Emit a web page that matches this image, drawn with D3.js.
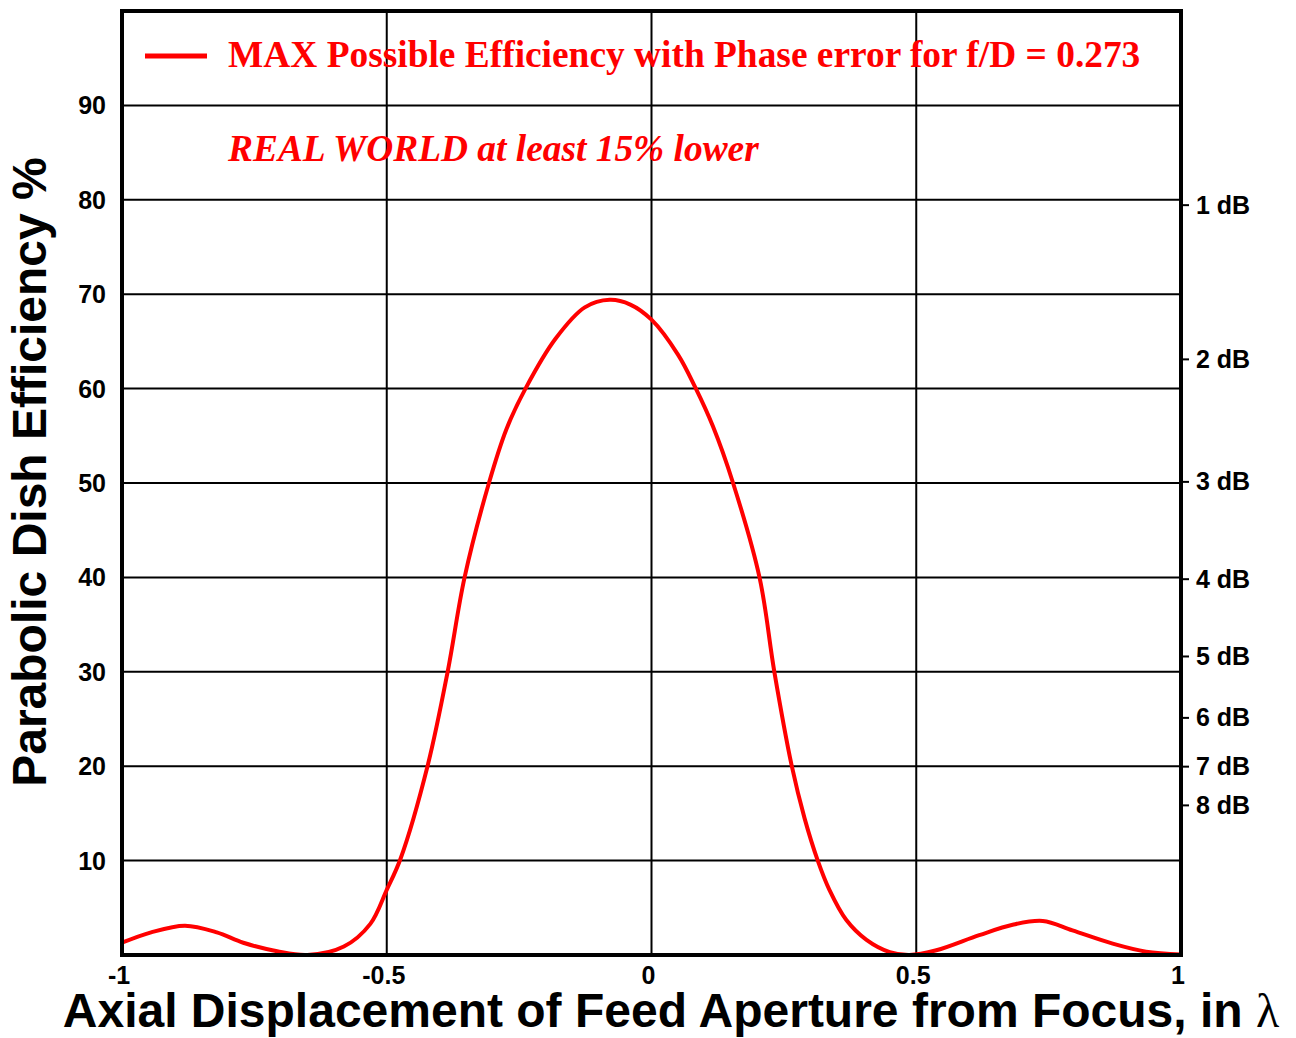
<!DOCTYPE html>
<html>
<head>
<meta charset="utf-8">
<script src="https://cdn.jsdelivr.net/npm/d3@7"></script>
<style>
    body { margin: 0; background: #fff; }
    svg { display: block; }
</style>
</head>
<body>
<svg id="chart" width="1296" height="1038"></svg>
<script>
// efficiency curve (displacement in wavelengths, efficiency %)
const displacement = [
    -1.0, -0.945, -0.881, -0.821, -0.771, -0.707, -0.65, -0.581, -0.531, -0.5,
    -0.474, -0.423, -0.385, -0.353, -0.307, -0.274, -0.238, -0.181, -0.126,
    -0.079, -0.04, 0.0, 0.05, 0.082, 0.116, 0.154, 0.204, 0.232, 0.265, 0.289,
    0.314, 0.336, 0.368, 0.406, 0.45, 0.487, 0.538, 0.619, 0.682, 0.739, 0.795,
    0.871, 0.934, 1.0
]
const efficiency = [
    1.3, 2.4, 3.1, 2.4, 1.3, 0.4, 0, 0.9, 3.3, 6.9,
    10.2, 20, 30, 40, 50, 55.7, 60, 65.3, 68.6,
    69.4, 68.9, 67.3, 63.6, 60.2, 56, 50, 40, 30, 20, 14.5,
    10, 6.9, 3.7, 1.6, 0.3, 0, 0.5, 2.1, 3.2, 3.6, 2.6,
    1.2, 0.35, 0.05
]

const xTicks = [-1, -0.5, 0, 0.5, 1]
const xTickLabels = ['-1', '-0.5', '0', '0.5', '1']
const yTicks = [10, 20, 30, 40, 50, 60, 70, 80, 90]
const dbTicks = [1, 2, 3, 4, 5, 6, 7, 8]

const legendText = 'MAX Possible Efficiency with Phase error for f/D = 0.273'
const noteText = 'REAL WORLD at least 15% lower'
const xTitle = 'Axial Displacement of Feed Aperture from Focus, in '
const yTitle = 'Parabolic Dish Efficiency %'

const data = displacement.map((d, i) => ({ x: d, y: efficiency[i] }))

const svg = d3.select('#chart')
const plotLeft = 122,
    plotRight = 1181,
    plotTop = 11,
    plotBottom = 955

const x = d3.scaleLinear().domain([-1, 1]).range([plotLeft, plotRight])
const y = d3.scaleLinear().domain([0, 100]).range([plotBottom, plotTop])

const sans = "'Liberation Sans', Arial, sans-serif"
const serif = "'Liberation Serif', 'Times New Roman', serif"

// grid
const grid = svg.append('g').attr('stroke', '#000').attr('stroke-width', 2)
grid.selectAll('line.h')
    .data(yTicks)
    .join('line')
    .attr('class', 'h')
    .attr('x1', plotLeft)
    .attr('x2', plotRight)
    .attr('y1', (d) => y(d))
    .attr('y2', (d) => y(d))
grid.selectAll('line.v')
    .data(xTicks.slice(1, -1))
    .join('line')
    .attr('class', 'v')
    .attr('x1', (d) => x(d))
    .attr('x2', (d) => x(d))
    .attr('y1', plotTop)
    .attr('y2', plotBottom)

// curve
const line = d3
    .line()
    .x((d) => x(d.x))
    .y((d) => y(d.y))
    .curve(d3.curveCatmullRom.alpha(0.5))

svg.append('path')
    .datum(data)
    .attr('fill', 'none')
    .attr('stroke', '#ff0000')
    .attr('stroke-width', 4)
    .attr('stroke-linejoin', 'round')
    .attr('d', line)

// frame
svg.append('rect')
    .attr('x', plotLeft)
    .attr('y', plotTop)
    .attr('width', plotRight - plotLeft)
    .attr('height', plotBottom - plotTop)
    .attr('fill', 'none')
    .attr('stroke', '#000')
    .attr('stroke-width', 4)

// y labels
svg.append('g')
    .attr('font-family', sans)
    .attr('font-weight', 'bold')
    .attr('font-size', 25)
    .attr('text-anchor', 'end')
    .selectAll('text')
    .data(yTicks)
    .join('text')
    .attr('x', plotLeft - 16)
    .attr('y', (d) => y(d))
    .attr('dy', '0.36em')
    .text((d) => d)

// x labels
svg.append('g')
    .attr('font-family', sans)
    .attr('font-weight', 'bold')
    .attr('font-size', 25)
    .attr('text-anchor', 'middle')
    .selectAll('text')
    .data(xTicks)
    .join('text')
    .attr('x', (d) => x(d) - 3)
    .attr('y', plotBottom + 29)
    .text((d, i) => xTickLabels[i])

// dB scale on the right: efficiency = 100 * 10^(-dB/10)
const dbY = (d) => y(100 * Math.pow(10, -d / 10))
const db = svg.append('g')
db.selectAll('line')
    .data(dbTicks)
    .join('line')
    .attr('x1', plotRight)
    .attr('x2', plotRight + 8)
    .attr('y1', dbY)
    .attr('y2', dbY)
    .attr('stroke', '#000')
    .attr('stroke-width', 2)
db.selectAll('text')
    .data(dbTicks)
    .join('text')
    .attr('font-family', sans)
    .attr('font-weight', 'bold')
    .attr('font-size', 25)
    .attr('x', plotRight + 15)
    .attr('y', dbY)
    .attr('dy', '0.34em')
    .text((d) => `${d} dB`)

// titles
const xt = svg.append('text')
    .attr('font-family', sans)
    .attr('font-weight', 'bold')
    .attr('font-size', 48)
    .attr('text-anchor', 'middle')
    .attr('x', 671)
    .attr('y', 1027)
xt.append('tspan').text(xTitle)
xt.append('tspan')
    .attr('font-family', serif)
    .attr('font-weight', 'normal')
    .text('\u03bb')

svg.append('text')
    .attr('font-family', sans)
    .attr('font-weight', 'bold')
    .attr('font-size', 48)
    .attr('text-anchor', 'middle')
    .attr('transform', 'translate(46,472) rotate(-90)')
    .text(yTitle)

// legend
svg.append('line')
    .attr('x1', 145)
    .attr('x2', 207)
    .attr('y1', 56)
    .attr('y2', 56)
    .attr('stroke', '#ff0000')
    .attr('stroke-width', 5)

svg.append('text')
    .attr('font-family', serif)
    .attr('font-weight', 'bold')
    .attr('font-size', 37.4)
    .attr('fill', '#ff0000')
    .attr('x', 228)
    .attr('y', 67)
    .text(legendText)

svg.append('text')
    .attr('font-family', serif)
    .attr('font-weight', 'bold')
    .attr('font-style', 'italic')
    .attr('font-size', 37.4)
    .attr('fill', '#ff0000')
    .attr('x', 228)
    .attr('y', 161)
    .text(noteText)
</script>
</body>
</html>
